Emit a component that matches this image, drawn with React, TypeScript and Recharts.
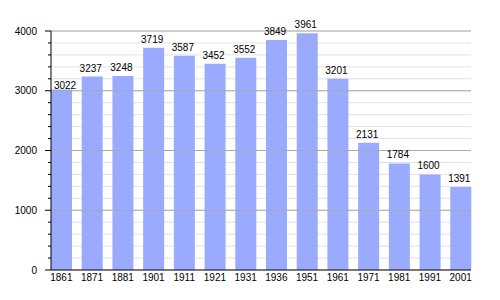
import React from 'react';
import { BarChart, Bar, XAxis, YAxis, CartesianGrid, ReferenceLine, LabelList } from 'recharts';

const years = ['1861', '1871', '1881', '1901', '1911', '1921', '1931', '1936', '1951', '1961', '1971', '1981', '1991', '2001'];
const population = [3022, 3237, 3248, 3719, 3587, 3452, 3552, 3849, 3961, 3201, 2131, 1784, 1600, 1391];
const yTicks = [0, 200, 400, 600, 800, 1000, 1200, 1400, 1600, 1800, 2000, 2200, 2400, 2600, 2800, 3000, 3200, 3400, 3600, 3800, 4000];
const majorTicks = [1000, 2000, 3000, 4000];

const data = years.map((y, i) => ({ year: y, pop: population[i] }));

const FONT = '"Liberation Sans", Arial, sans-serif';
const FS = 10;

const YTick = (props: any) => {
  const { x, y, payload } = props;
  const v = payload.value;
  const major = v % 1000 === 0;
  return (
    <g>
      <line x1={x - (major ? 6 : 3)} x2={x} y1={y} y2={y} stroke="#000" strokeWidth={1} />
      {major && (
        <text x={x - 14} y={y} dy="0.355em" textAnchor="end" fontSize={FS} fontFamily={FONT} fill="#000">
          {v}
        </text>
      )}
    </g>
  );
};

const ValueLabel = (props: any) => {
  const { x, y, width, value, index } = props;
  const first = index === 0;
  const cx = x + width / 2 + (first ? 3.5 : -1.5);
  const by = y - (first ? 0.5 : 5);
  return (
    <text x={cx} y={by} textAnchor="middle" fontSize={FS} fontFamily={FONT} fill="#000">
      {value}
    </text>
  );
};

export default function App() {
  return (
    <div style={{ position: 'absolute', left: 0, top: 0, width: 500, height: 300, background: '#fff' }}>
      <BarChart width={500} height={300} data={data} margin={{ top: 31, right: 29, bottom: 10, left: 0 }}>
        <CartesianGrid vertical={false} stroke="#e2e2e2" />
        {majorTicks.map((t) => (
          <ReferenceLine key={t} y={t} stroke="#a8a8a8" strokeWidth={1} />
        ))}
        <XAxis
          dataKey="year"
          padding={{ left: -5, right: -5 }}
          tickLine={false}
          tickSize={4}
          tickMargin={0}
          axisLine={{ stroke: '#000' }}
          tick={{ fontSize: FS, fontFamily: FONT, fill: '#000' }}
          interval={0}
          height={20}
        />
        <YAxis
          width={51}
          domain={[0, 4000]}
          ticks={yTicks}
          interval={0}
          tickLine={false}
          tickSize={0}
          tickMargin={0}
          axisLine={{ stroke: '#000' }}
          tick={<YTick />}
        />
        <Bar dataKey="pop" fill="#9aabff" barSize={21} isAnimationActive={false}>
          <LabelList dataKey="pop" content={<ValueLabel />} />
        </Bar>
      </BarChart>
    </div>
  );
}
